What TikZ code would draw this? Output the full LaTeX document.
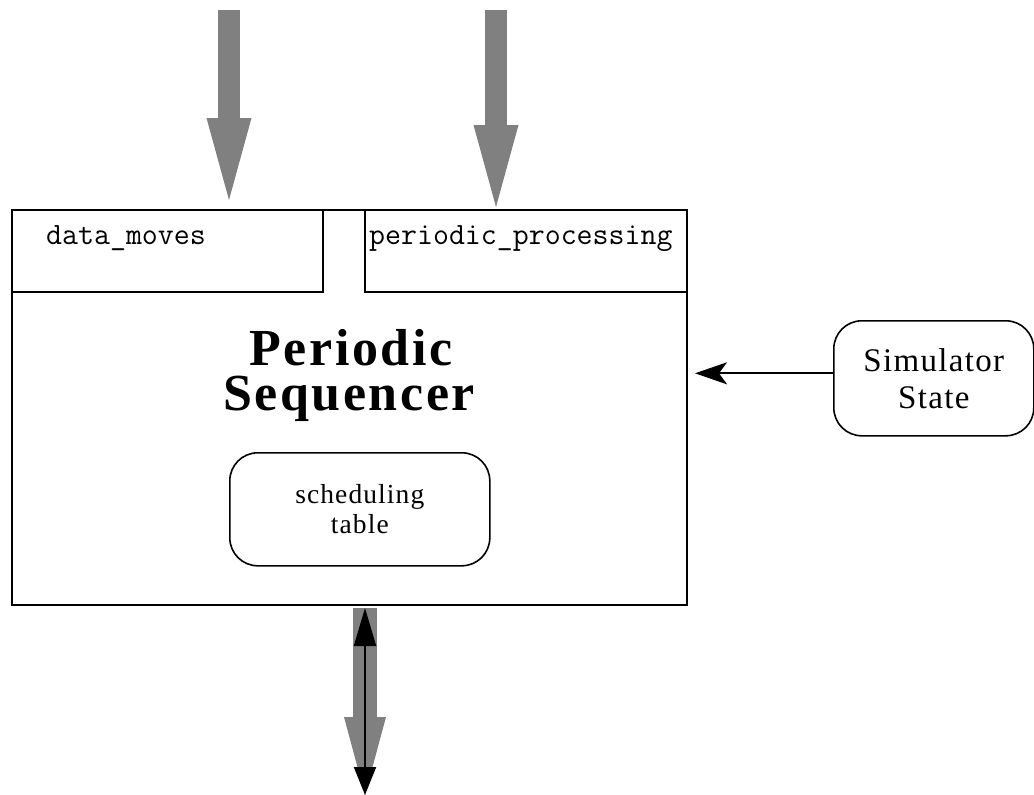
\documentclass[tikz,border=0pt]{standalone}
\usepackage{fontspec}
\newfontfamily\sfont{Liberation Serif}
\newfontfamily\sfontw[LetterSpace=4]{Liberation Serif}
\newfontfamily\tfont[LetterSpace=5]{Liberation Serif}
\usetikzlibrary{arrows.meta,calc}
\definecolor{hatch}{gray}{0.5}
\tikzset{
  box/.style={draw, line width=2pt, inner sep=0pt, anchor=north west},
  rbox/.style={draw, line width=1.6pt, rounded corners=28pt, inner sep=0pt, anchor=north west},
  fat/.style={line width=22pt, draw=hatch, -{Triangle[length=82pt,width=45pt,line width=0pt]}},
  mono/.style={font=\ttfamily\fontsize{31}{31}\selectfont, inner sep=0pt, anchor=base west},
  ttl/.style={font=\tfont\bfseries\fontsize{52}{52}\selectfont, inner sep=0pt, anchor=base}
}
\begin{document}
\begin{tikzpicture}[x=1pt,y=-1pt]
\useasboundingbox (0,0) rectangle (1034,795);
% main box and sub boxes
\node[box, minimum width=675pt, minimum height=395pt] (seq) at (11,209) {};
\node[box, minimum width=311pt, minimum height=82pt] (dm) at (11,209) {};
\node[box, minimum width=322pt, minimum height=82pt] (pp) at (364,209) {};
\node[mono] (dmt) at (46,244) {data\_moves};
\node[mono] (ppt) at (369,244) {periodic\_processing};
% title
\node[ttl] (title1) at (351,365) {Periodic};
\node[ttl] (title2) at (349,410) {Sequencer};
% scheduling table
\node[rbox, minimum width=260pt, minimum height=113pt] (sched) at (229,452) {};
\node[font=\sfontw\fontsize{27.5}{30}\selectfont, align=center, inner sep=0pt] (schedt) at (sched.center) {scheduling\\table};
% simulator state
\node[rbox, minimum width=200pt, minimum height=115pt] (sim) at (833,320) {};
\node[font=\sfontw\fontsize{33}{37}\selectfont, align=center, inner sep=0pt] (simt) at (sim.center) {Simulator\\State};
% input arrows
\coordinate (in1) at (229,10);
\coordinate (in2) at (496,10);
\draw[fat] (in1) -- (in1 |- seq.north) [shorten >=9pt];
\draw[fat] (in2) -- (in2 |- seq.north) [shorten >=2pt];
% bottom arrow
\coordinate (outb) at (365,795);
\draw[line width=24pt, draw=hatch, -{Triangle[length=78pt,width=42pt,line width=0pt]}] ([yshift=-2pt]seq.south -| outb) -- (outb);
\draw[line width=2pt, {Triangle[length=38pt,width=22pt]}-{Triangle[length=28pt,width=22pt]}] ([yshift=-2pt]seq.south -| outb) -- (outb);
% simulator arrow
\draw[line width=2pt, -{Stealth[length=32pt,width=22pt,inset=8pt]}] ([yshift=5pt]sim.west) -- ([yshift=5pt]sim.west -| seq.east) [shorten >=7pt];
\end{tikzpicture}
\end{document}
